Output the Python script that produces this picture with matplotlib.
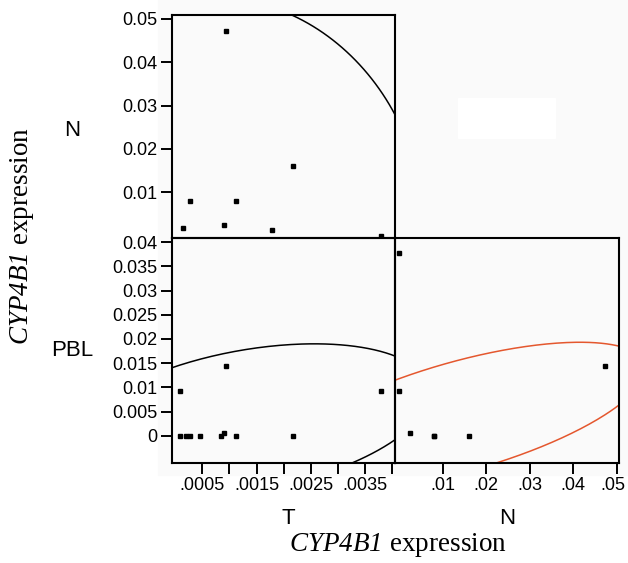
import numpy as np
import matplotlib
matplotlib.use('Agg')
import matplotlib.pyplot as plt
import matplotlib.transforms as mtransforms
from matplotlib.patches import Rectangle

# italic serif for the gene name, digits included
plt.rcParams['mathtext.fontset'] = 'custom'
plt.rcParams['mathtext.rm'] = 'Liberation Serif:italic'
plt.rcParams['mathtext.it'] = 'Liberation Serif:italic'

nan = np.nan

# CYP4B1 expression per sample (NaN = not measured)
T = [0.000931, 0.00217, 0.000268, 0.001115, 0.000145, 0.000900, 0.001778,
     0.00379, 0.000084, 0.000084, 0.000205, 0.000452, 0.000844, nan]
N = [0.0473, 0.0160, 0.0081, 0.0081, 0.0018, 0.0025, 0.0012,
     0.0000, nan, nan, nan, nan, nan, 0.0000]
PBL = [0.0144, 0.0, 0.0, 0.0, nan, 0.0005, nan,
       0.0093, 0.0093, 0.0, 0.0, 0.0, 0.0, 0.0378]

# density ellipses: centre x, centre y, half width, slope of conjugate axis, half height
ell_TN = [0.00139, 0.0107, 0.00316, -2.3, 0.0432]
ell_TP = [0.001366, 0.0032, 0.003317, 1.718, 0.01473]
ell_NP = [0.01402, 0.00395, 0.04269, 0.2321, 0.01175]

T_ticks = [0.0005, 0.001, 0.0015, 0.002, 0.0025, 0.003, 0.0035, 0.004]
T_labels = ['.0005', '', '.0015', '', '.0025', '', '.0035', '']
N_xticks = [0.01, 0.02, 0.03, 0.04, 0.05]
N_xlabels = ['.01', '.02', '.03', '.04', '.05']
N_yticks = [0.01, 0.02, 0.03, 0.04, 0.05]
N_ylabels = ['0.01', '0.02', '0.03', '0.04', '0.05']
P_ticks = [0, 0.005, 0.01, 0.015, 0.02, 0.025, 0.03, 0.035, 0.04]
P_labels = ['0', '0.005', '0.01', '0.015', '0.02', '0.025', '0.03', '0.035', '0.04']

W, H = 628, 563
fig = plt.figure(figsize=(W / 100, H / 100), dpi=100)
fig.patch.set_facecolor('white')

# light grey backdrop behind the matrix, white box in empty cell
fig.patches.append(Rectangle((158 / W, 1 - 475 / H), 1 - 158 / W, 475 / H,
                             transform=fig.transFigure, color='#fafafa', zorder=-10))
fig.patches.append(Rectangle((458 / W, 1 - 138 / H), 97 / W, 40 / H,
                             transform=fig.transFigure, color='white', zorder=-9))


def box(x0, y0, x1, y1):
    return [x0 / W, 1 - y1 / H, (x1 - x0) / W, (y1 - y0) / H]


ax_tn = fig.add_axes(box(171.7, 15, 395, 238))
ax_tp = fig.add_axes(box(171.7, 238, 395, 463))
ax_np = fig.add_axes(box(395, 238, 619.3, 463))

T_lim = (-0.0000635, 0.00405)
N_ylim = (-0.00055, 0.0509)
N_xlim = (-0.00097, 0.0506)
P_lim = (-0.00565, 0.04088)


def ellipse(ax, p, color):
    cx, cy, a, m, k = p
    t = np.linspace(0, 2 * np.pi, 400)
    ax.plot(cx + a * np.cos(t), cy + m * a * np.cos(t) + k * np.sin(t),
            color=color, lw=1.1, zorder=2)


def style(ax):
    ax.set_facecolor('none')
    for s in ax.spines.values():
        s.set_linewidth(1.5)
        s.set_color('black')
    ax.tick_params(direction='out', length=8, width=1.4, labelsize=13,
                   pad=2, colors='black')


T_a = np.array(T)
N_a = np.array(N)
P_a = np.array(PBL)

ax_tn.plot(T_a, N_a, 's', color='black', ms=2.8, zorder=3)
ellipse(ax_tn, ell_TN, 'black')
ax_tn.set_xlim(T_lim)
ax_tn.set_ylim(N_ylim)
ax_tn.set_xticks([])
ax_tn.set_yticks(N_yticks)
ax_tn.set_yticklabels(N_ylabels)

ax_tp.plot(T_a, P_a, 's', color='black', ms=2.8, zorder=3)
ellipse(ax_tp, ell_TP, 'black')
ax_tp.set_xlim(T_lim)
ax_tp.set_ylim(P_lim)
ax_tp.set_xticks(T_ticks)
ax_tp.set_xticklabels(T_labels)
ax_tp.set_yticks(P_ticks)
ax_tp.set_yticklabels(P_labels)

ax_np.plot(N_a, P_a, 's', color='black', ms=2.8, zorder=3)
ellipse(ax_np, ell_NP, '#e4572e')
ax_np.set_xlim(N_xlim)
ax_np.set_ylim(P_lim)
ax_np.set_xticks(N_xticks)
ax_np.set_xticklabels(N_xlabels)
ax_np.set_yticks([])

for ax in (ax_tn, ax_tp, ax_np):
    style(ax)

sans = ['Liberation Sans', 'DejaVu Sans']
serif = ['Liberation Serif', 'DejaVu Serif']
for ax in (ax_tn, ax_tp, ax_np):
    for lab in ax.get_xticklabels() + ax.get_yticklabels():
        lab.set_family(sans)

# keep the last N label inside the figure
last = ax_np.get_xticklabels()[-1]
last.set_transform(last.get_transform() +
                   mtransforms.ScaledTranslation(-4 / 100, 0, fig.dpi_scale_trans))

fig.text(72.5 / W, 1 - 130 / H, 'N', family=sans, fontsize=16, ha='center', va='center')
fig.text(72.5 / W, 1 - 350 / H, 'PBL', family=sans, fontsize=16, ha='center', va='center')
fig.text(288 / W, 1 - 519 / H, 'T', family=sans, fontsize=16, ha='center', va='center')
fig.text(507 / W, 1 - 519 / H, 'N', family=sans, fontsize=16, ha='center', va='center')

label = r'$\mathrm{CYP4B1}$ expression'
fig.text(398 / W, 1 - 551 / H, label, family=serif,
         fontsize=19.5, ha='center', va='baseline')
fig.text(22 / W, 1 - 236 / H, label, family=serif,
         fontsize=19.5, ha='center', va='center', rotation=90)

plt.savefig('out.png', dpi=100)
